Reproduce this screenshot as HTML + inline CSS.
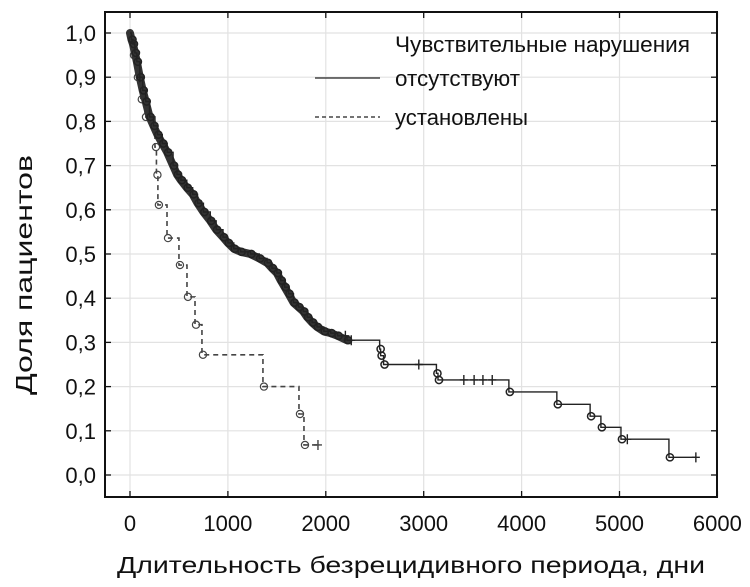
<!DOCTYPE html>
<html><head><meta charset="utf-8"><style>
html,body{margin:0;padding:0;background:#fff}
svg{display:block;font-family:"Liberation Sans","DejaVu Sans",sans-serif}
</style></head><body>
<svg id="chart" width="750" height="587" viewBox="0 0 750 587" xmlns="http://www.w3.org/2000/svg">
<g id="grid"></g>
<g id="series"></g>
<rect x="105" y="12" width="612" height="485" fill="none" stroke="#111" stroke-width="2"/>
<g id="axes"></g>
<g>
<text x="395" y="52" font-size="22" textLength="295" lengthAdjust="spacingAndGlyphs" fill="#111">Чувствительные нарушения</text>
<line x1="315" y1="78" x2="380" y2="78" stroke="#222" stroke-width="1.3"/>
<text x="395" y="86" font-size="22" textLength="125" lengthAdjust="spacingAndGlyphs" fill="#111">отсутствуют</text>
<line x1="315" y1="117" x2="380" y2="117" stroke="#222" stroke-width="1.3" stroke-dasharray="4,3"/>
<text x="395" y="125" font-size="22" textLength="133" lengthAdjust="spacingAndGlyphs" fill="#111">установлены</text>
</g>
<text x="411" y="573" font-size="23" text-anchor="middle" textLength="588" lengthAdjust="spacingAndGlyphs" fill="#111">Длительность безрецидивного периода, дни</text>
<text transform="translate(32,275) rotate(-90)" font-size="23" text-anchor="middle" textLength="240" lengthAdjust="spacingAndGlyphs" fill="#111">Доля пациентов</text>
</svg>
<script>
const xTicks=[0,1000,2000,3000,4000,5000,6000];
const xTickLabels=["0","1000","2000","3000","4000","5000","6000"];
const yTicks=[0,0.1,0.2,0.3,0.4,0.5,0.6,0.7,0.8,0.9,1.0];
const yTickLabels=["0,0","0,1","0,2","0,3","0,4","0,5","0,6","0,7","0,8","0,9","1,0"];
const solidT=[0,15,30,50,70,100,130,160,200,240,280,330,380,440,480,520,580,640,690,750,820,880,950,1000,1060,1130,1230,1320,1400,1450,1500,1540,1580,1620,1670,1720,1770,1810,1860,1910,1980,2050,2120,2217,2550,2560,2590,3130,3146,3870,4360,4700,4810,5015,5505];
const solidS=[1.0,0.985,0.975,0.955,0.935,0.90,0.87,0.845,0.81,0.79,0.77,0.75,0.73,0.70,0.68,0.667,0.65,0.635,0.615,0.595,0.575,0.555,0.538,0.525,0.512,0.505,0.5,0.49,0.48,0.468,0.457,0.44,0.425,0.41,0.39,0.38,0.37,0.357,0.345,0.335,0.325,0.321,0.315,0.305,0.285,0.27,0.25,0.23,0.215,0.188,0.16,0.133,0.108,0.081,0.04];
const solidEnd=5780;
const solidDenseUntil=2217;
const solidCensor=[100,2200,2260,2950,3410,3515,3605,3700,5080,5780];
const dashT=[0,30,70,110,153,255,270,285,378,500,582,664,735,1358,1726,1777];
const dashS=[1.0,0.95,0.9,0.85,0.81,0.742,0.679,0.611,0.536,0.475,0.403,0.34,0.272,0.20,0.138,0.068];
const dashEnd=1920;
const dashCensor=[1920];

const NS="http://www.w3.org/2000/svg";
const X0=130,XS=97.9/1000,Y0=475,YS=442;
function sx(t){return X0+t*XS;}
function sy(s){return Y0-s*YS;}
function mk(tag,attrs,parent){const e=document.createElementNS(NS,tag);for(const k in attrs)e.setAttribute(k,attrs[k]);parent.appendChild(e);return e;}
const grid=document.getElementById('grid'),axes=document.getElementById('axes'),ser=document.getElementById('series');
xTicks.forEach((v,i)=>{
  const gl=mk('line',{x1:sx(v),x2:sx(v),y1:12,y2:497,stroke:'#e2e2e2','stroke-width':1.2},grid);
  
  
  const t1=mk('line',{x1:sx(v),x2:sx(v),y1:497,y2:491,stroke:'#111','stroke-width':1.3},axes);
  
  
  const t2=mk('line',{x1:sx(v),x2:sx(v),y1:12,y2:18,stroke:'#111','stroke-width':1.3},axes);
  
  
  const lb=mk('text',{x:sx(v),y:531,'font-size':22,'text-anchor':'middle',fill:'#111'},axes);
  lb.textContent=xTickLabels[i];
  
  
});
yTicks.forEach((v,i)=>{
  const gl=mk('line',{x1:105,x2:717,y1:sy(v),y2:sy(v),stroke:'#e2e2e2','stroke-width':1.2},grid);
  
  
  const t1=mk('line',{x1:105,x2:111,y1:sy(v),y2:sy(v),stroke:'#111','stroke-width':1.3},axes);
  
  
  const t2=mk('line',{x1:711,x2:717,y1:sy(v),y2:sy(v),stroke:'#111','stroke-width':1.3},axes);
  
  
  const lb=mk('text',{x:96,y:sy(v)+8,'font-size':22,'text-anchor':'end',fill:'#111'},axes);
  lb.textContent=yTickLabels[i];
  
  
});
function survAt(T,S,t){let s=S[0];for(let i=0;i<T.length;i++){if(T[i]<=t)s=S[i];}return s;}
function drawSeries(T,S,end,cens,dash,name,col,denseUntil){
  if(denseUntil){
    let db='M'+sx(T[0])+','+sy(S[0]);
    for(let i=1;i<T.length&&T[i]<=denseUntil;i++){db+=' L'+sx(T[i])+','+sy(S[i]);}
    const band=mk('path',{d:db,fill:'none',stroke:'#333','stroke-width':8,'stroke-linejoin':'round','stroke-linecap':'round'},ser);
    
    
  }
  let d='M'+sx(T[0])+','+sy(S[0]);
  for(let i=1;i<T.length;i++){d+=' L'+sx(T[i])+','+sy(S[i-1])+' L'+sx(T[i])+','+sy(S[i]);}
  d+=' L'+sx(end)+','+sy(S[S.length-1]);
  const p=mk('path',{d:d,fill:'none',stroke:col,'stroke-width':dash?1.6:1.4,'stroke-dasharray':dash?'5,4':'none'},ser);
  
  
  for(let i=1;i<T.length;i++){
    const c=mk('circle',{cx:sx(T[i])+1,cy:sy(S[i]),r:3.6,fill:'none',stroke:col,'stroke-width':dash?1.2:1.5},ser);
    
    
  }
  cens.forEach(t=>{
    const y=sy(survAt(T,S,t)),x=sx(t);
    const c=mk('path',{d:'M'+x+','+(y-5)+' L'+x+','+(y+5)+' M'+(x-4)+','+y+' L'+(x+4)+','+y,stroke:col,'stroke-width':1.4,fill:'none'},ser);
    
    
  });
}
drawSeries(dashT,dashS,dashEnd,dashCensor,true,'present','#444',0);
drawSeries(solidT,solidS,solidEnd,solidCensor,false,'absent','#222',solidDenseUntil);
</script>
</body></html>
